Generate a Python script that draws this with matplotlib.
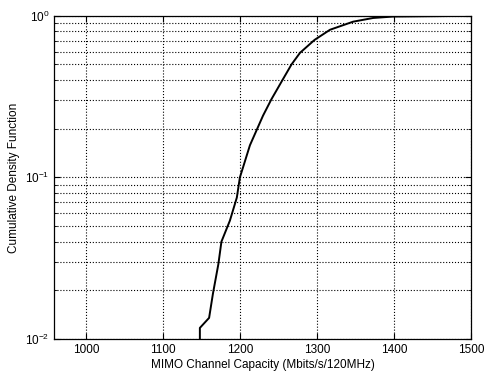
import numpy as np
import matplotlib.pyplot as plt
from matplotlib.ticker import LogLocator, NullFormatter

plt.rcParams['font.family'] = ['Liberation Sans', 'DejaVu Sans']

# CDF of MIMO channel capacity
capacity = [1148, 1148, 1160, 1165, 1172, 1176, 1187, 1196, 1200, 1213, 1230,
            1241, 1256, 1267, 1278, 1297, 1317, 1347, 1373, 1399, 1500]
cdf = [0.0100, 0.0117, 0.0135, 0.0191, 0.029, 0.040, 0.054, 0.075, 0.100, 0.158,
       0.241, 0.305, 0.406, 0.50, 0.59, 0.71, 0.82, 0.92, 0.97, 0.99, 1.0]
xticks = [1000, 1100, 1200, 1300, 1400, 1500]

fig = plt.figure(figsize=(4.85, 3.77), dpi=100)
ax = fig.add_axes([0.112, 0.101, 0.859, 0.857])
ax.semilogy(capacity, cdf, 'k-', linewidth=1.4)

ax.set_xlim(959, 1500)
ax.set_ylim(0.01, 1)
ax.set_xticks(xticks)
ax.yaxis.set_major_locator(LogLocator(base=10))
ax.yaxis.set_minor_locator(LogLocator(base=10, subs=np.arange(2, 10)))
ax.yaxis.set_minor_formatter(NullFormatter())

ax.grid(True, which='major', linestyle=':', color='k', linewidth=0.8)
ax.grid(True, which='minor', axis='y', linestyle=':', color='k', linewidth=0.8)
ax.tick_params(which='both', direction='in', top=True, right=True, labelsize=8.5)
ax.tick_params(which='major', length=4)
ax.tick_params(which='minor', length=2)
for s in ax.spines.values():
    s.set_linewidth(0.9)

ax.set_xlabel('MIMO Channel Capacity (Mbits/s/120MHz)', fontsize=8.5, labelpad=2)
ax.set_ylabel('Cumulative Density Function', fontsize=8.5, labelpad=4)

fig.savefig('out.png', dpi=100)
